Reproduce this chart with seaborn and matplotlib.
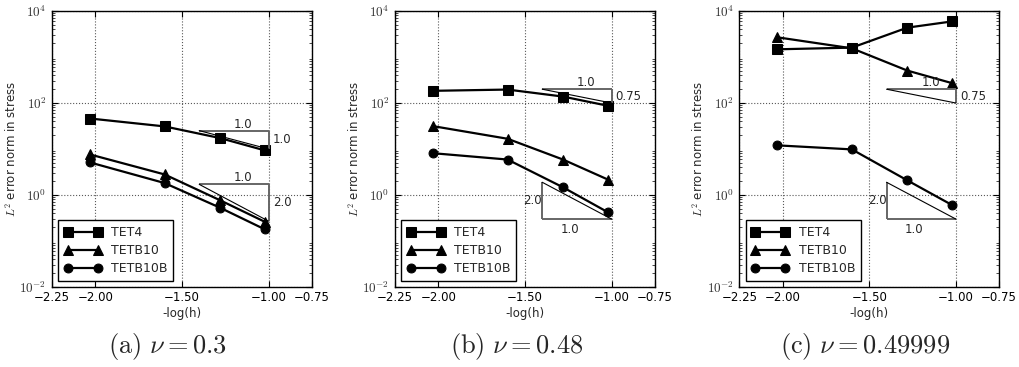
import numpy as np
import matplotlib
matplotlib.use('Agg')
import matplotlib.pyplot as plt
import seaborn as sns
from matplotlib.ticker import LogLocator, NullFormatter, FixedLocator, FuncFormatter

# ---------------- data ----------------
x_vals = [-2.03, -1.60, -1.28, -1.02]
series_names = ['TET4', 'TETB10', 'TETB10B']
series_markers = ['s', '^', 'o']
marker_sizes = [6.8, 7.2, 6.4]

a_tet4 = [46.0, 31.0, 17.3, 9.3]
a_tetb10 = [7.6, 2.8, 0.77, 0.26]
a_tetb10b = [5.1, 1.82, 0.53, 0.178]

b_tet4 = [184.0, 196.0, 138.0, 87.0]
b_tetb10 = [31.4, 16.7, 5.9, 2.16]
b_tetb10b = [8.1, 5.9, 1.47, 0.42]

c_tet4 = [1470.0, 1600.0, 4350.0, 5950.0]
c_tetb10 = [2680.0, 1545.0, 507.0, 269.0]
c_tetb10b = [12.0, 9.8, 2.08, 0.60]

x_ticks = [-2.25, -2.00, -1.50, -1.00, -0.75]
y_ticks = [1e-2, 1e0, 1e2, 1e4]
y_tick_labels = [r'$10^{-2}$', r'$10^{0}$', r'$10^{2}$', r'$10^{4}$']

captions = [r'$\mathrm{(a)}\ \nu = 0.3$', r'$\mathrm{(b)}\ \nu = 0.48$', r'$\mathrm{(c)}\ \nu = 0.49999$']

# slope triangles: (x_left, x_right, y_low, slope, orientation, run label, rise label)
tri_a = [(-1.4, -1.0, 10.0, 1.0, 'upper', '1.0', '1.0'),
         (-1.4, -1.0, 0.27, 2.0, 'upper', '1.0', '2.0')]
tri_b = [(-1.4, -1.0, 100.0, 0.75, 'upper', '1.0', '0.75'),
         (-1.4, -1.0, 0.30, 2.0, 'lower', '1.0', '2.0')]
tri_c = [(-1.4, -1.0, 100.0, 0.75, 'upper', '1.0', '0.75'),
         (-1.4, -1.0, 0.30, 2.0, 'lower', '1.0', '2.0')]

panels = [
    ([a_tet4, a_tetb10, a_tetb10b], tri_a),
    ([b_tet4, b_tetb10, b_tetb10b], tri_b),
    ([c_tet4, c_tetb10, c_tetb10b], tri_c),
]

# ---------------- style ----------------
sns.set_theme(style='ticks')
plt.rcParams['font.family'] = ['DejaVu Sans']
plt.rcParams['mathtext.fontset'] = 'cm'
plt.rcParams['xtick.direction'] = 'in'
plt.rcParams['ytick.direction'] = 'in'
plt.rcParams['xtick.top'] = True
plt.rcParams['ytick.right'] = True
plt.rcParams['axes.edgecolor'] = 'black'
plt.rcParams['axes.linewidth'] = 1.0
plt.rcParams['xtick.color'] = 'black'
plt.rcParams['ytick.color'] = 'black'

fig = plt.figure(figsize=(10.19, 3.67), dpi=100)
lefts = [0.051, 0.3876, 0.7255]
bottom, width, height = 0.218, 0.255, 0.752
cap_x = [0.164, 0.507, 0.849]

minus_fmt = FuncFormatter(lambda v, p: f'{v:.2f}'.replace('-', '\u2212'))

for i, ((ys, tris), left) in enumerate(zip(panels, lefts)):
    ax = fig.add_axes([left, bottom, width, height])
    ax.set_yscale('log')
    for name, mk, ms, y in zip(series_names, series_markers, marker_sizes, ys):
        sns.lineplot(x=x_vals, y=y, ax=ax, color='black', marker=mk,
                     markersize=ms, markeredgecolor='black',
                     linewidth=1.6, label=name)
    # slope triangles
    for (xl, xr, ylo, slope, orient, run_lab, rise_lab) in tris:
        yhi = ylo * 10 ** (slope * (xr - xl))
        ymid = np.sqrt(ylo * yhi)
        if orient == 'upper':
            ax.plot([xl, xr], [yhi, yhi], color='0.4', lw=1.4, solid_capstyle='butt')
            ax.plot([xr, xr], [yhi, ylo], color='0.4', lw=1.4, solid_capstyle='butt')
            ax.plot([xl, xr], [yhi, ylo], color='black', lw=0.8)
            ax.text(xl + 0.635 * (xr - xl), yhi, run_lab, ha='center', va='bottom', fontsize=8.5)
            ax.annotate(rise_lab, (xr, ymid), xytext=(3, 0), textcoords='offset points',
                        ha='left', va='center', fontsize=8.5)
        else:
            ax.plot([xl, xl], [yhi, ylo], color='0.4', lw=1.4, solid_capstyle='butt')
            ax.plot([xl, xr], [ylo, ylo], color='0.4', lw=1.4, solid_capstyle='butt')
            ax.plot([xl, xr], [yhi, ylo], color='black', lw=0.8)
            ax.annotate(run_lab, (xl + 0.4 * (xr - xl), ylo), xytext=(0, -3), textcoords='offset points',
                        ha='center', va='top', fontsize=8.5)
            ax.annotate(rise_lab, (xl, ymid), xytext=(0, 0), textcoords='offset points',
                        ha='right', va='center', fontsize=8.5)

    ax.set_xlim(-2.25, -0.75)
    ax.set_ylim(1e-2, 1e4)
    ax.xaxis.set_major_locator(FixedLocator(x_ticks))
    ax.xaxis.set_major_formatter(minus_fmt)
    ax.yaxis.set_major_locator(FixedLocator(y_ticks))
    ax.yaxis.set_minor_locator(LogLocator(base=10, subs=np.arange(2, 10), numticks=100))
    ax.yaxis.set_minor_formatter(NullFormatter())
    ax.set_yticklabels(y_tick_labels)
    ax.tick_params(axis='x', which='major', labelsize=8.5, length=4, width=0.8, pad=3)
    ax.tick_params(axis='y', which='major', labelsize=9.5, length=4, width=0.8, pad=4,
                   labelcolor='0.2')
    ax.tick_params(axis='y', which='minor', length=2, width=0.5)
    ax.grid(True, which='major', color='0.35', linestyle=':', linewidth=0.8)
    ax.set_xlabel('-log(h)', fontsize=8.5, labelpad=2)
    ax.set_ylabel(r'$L^2$ error norm in stress', fontsize=8.5)
    ax.yaxis.set_label_coords(-0.128, 0.5)
    for s in ax.spines.values():
        s.set_visible(True)
        s.set_color('black')
    leg = ax.legend(loc='lower left', numpoints=2, handlelength=3.0, handletextpad=0.8,
                    fontsize=9, frameon=True, fancybox=False, framealpha=1,
                    edgecolor='black', borderaxespad=0.5, labelspacing=0.4,
                    borderpad=0.45)
    leg.get_frame().set_linewidth(1.0)
    fig.text(cap_x[i], 0.057, captions[i], ha='center', va='center', fontsize=19)

fig.savefig('out.png', dpi=100)
